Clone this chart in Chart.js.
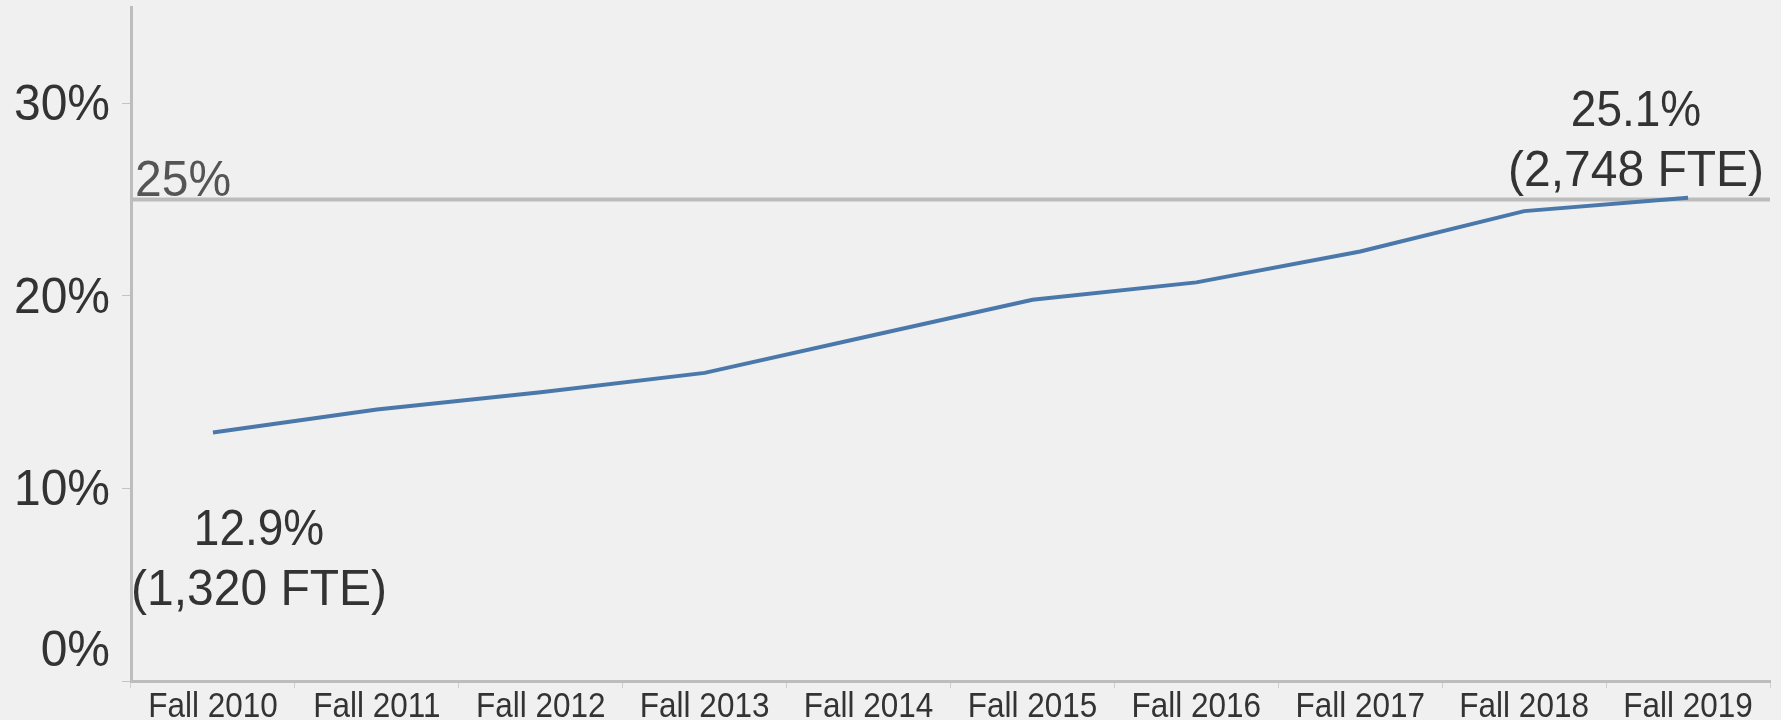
<!DOCTYPE html>
<html>
<head>
<meta charset="utf-8">
<script src="https://cdn.jsdelivr.net/npm/chart.js@4/dist/chart.umd.min.js"></script>
<style>
  html, body { margin: 0; padding: 0; background: #f0f0f0; }
  #wrap { width: 1781px; height: 720px; position: relative; }
</style>
</head>
<body>
<div id="wrap"><canvas id="shareChart"></canvas></div>
<script>
// data
const categories = ['Fall 2010', 'Fall 2011', 'Fall 2012', 'Fall 2013', 'Fall 2014',
                    'Fall 2015', 'Fall 2016', 'Fall 2017', 'Fall 2018', 'Fall 2019'];
const shareValues = [12.9, 14.1, 15.0, 16.0, 17.9, 19.8, 20.7, 22.3, 24.4, 25.1];
const yTicks = [0, 10, 20, 30];
const targetValue = 25;
const labelledPoints = [0, 9];
const fteCounts = [1320, 2748];

const FONT = '"Liberation Sans", Arial, sans-serif';
const BIG_H = 50.6; // visual height of the large text

// draw text stretched vertically to a given visual size, y is the baseline
function stretchedText(ctx, text, x, y, size, height, color, align) {
  ctx.save();
  ctx.translate(x, y);
  ctx.scale(1, height / size);
  ctx.font = size + 'px ' + FONT;
  ctx.fillStyle = color;
  ctx.textAlign = align;
  ctx.textBaseline = 'alphabetic';
  ctx.fillText(text, 0, 0);
  ctx.restore();
}

// 25% target line and its label, under the series
const targetLine = {
  id: 'targetLine',
  beforeDatasetsDraw(chart) {
    const { ctx, chartArea } = chart;
    const y = chart.scales.y.getPixelForValue(targetValue);
    ctx.save();
    ctx.strokeStyle = '#bcbcbc';
    ctx.lineWidth = 4;
    ctx.beginPath();
    ctx.moveTo(chartArea.left, y);
    ctx.lineTo(chartArea.right, y);
    ctx.stroke();
    ctx.restore();
    stretchedText(ctx, targetValue + '%', chartArea.left + 4, y - 4, 48, BIG_H, '#555', 'left');
  }
};

// tick labels (y label at 0 sits above the axis like in the original)
const tickText = {
  id: 'tickText',
  afterDraw(chart) {
    const { ctx, chartArea } = chart;
    const ys = chart.scales.y;
    yTicks.forEach(v => {
      const py = ys.getPixelForValue(v);
      const base = Math.min(py + 17, chartArea.bottom - 15);
      stretchedText(ctx, v + '%', 110, base, 48, BIG_H, '#333', 'right');
    });
    const xs = chart.scales.x;
    categories.forEach((c, i) => {
      stretchedText(ctx, c, xs.getPixelForValue(i), chartArea.bottom + 36, 31.5, 34.6, '#333', 'center');
    });
  }
};

// value + FTE annotations at first and last point
const pointNotes = {
  id: 'pointNotes',
  afterDraw(chart) {
    const { ctx, chartArea } = chart;
    const meta = chart.getDatasetMeta(0);
    ctx.save();
    ctx.beginPath();
    ctx.rect(chartArea.left, 0, chartArea.right - chartArea.left, chart.height);
    ctx.clip();
    ctx.font = '48px ' + FONT;
    labelledPoints.forEach((idx, k) => {
      const pt = meta.data[idx];
      const line1 = shareValues[idx].toFixed(1) + '%';
      const line2 = '(' + fteCounts[k].toLocaleString('en-US') + ' FTE)';
      const w = ctx.measureText(line2).width;
      let cx, b1;
      if (k === 0) {
        cx = Math.max(pt.x, chartArea.left + w / 2);
        b1 = pt.y + 112;
      } else {
        cx = pt.x - 52;
        b1 = pt.y - 72;
      }
      stretchedText(ctx, line1, cx, b1, 46, BIG_H, '#333', 'center');
      stretchedText(ctx, line2, cx, b1 + 60, 48, BIG_H, '#333', 'center');
    });
    ctx.restore();
  }
};

new Chart(document.getElementById('shareChart'), {
  type: 'line',
  data: {
    labels: categories,
    datasets: [{
      data: shareValues,
      borderColor: '#4a78ab',
      borderWidth: 4,
      pointRadius: 0,
      tension: 0,
      fill: false
    }]
  },
  options: {
    responsive: true,
    maintainAspectRatio: false,
    animation: false,
    layout: { padding: { top: 7, right: 11, left: 0, bottom: 0 } },
    plugins: { legend: { display: false }, tooltip: { enabled: false } },
    scales: {
      x: {
        offset: true,
        afterFit: s => { s.height = 39; },
        ticks: { display: false },
        grid: { offset: true, drawOnChartArea: false, tickLength: 7, color: '#cfcfcf', lineWidth: 1 },
        border: { display: true, color: '#bdbdbd', width: 3 }
      },
      y: {
        min: 0,
        max: 35,
        afterFit: s => { s.width = 131; },
        afterBuildTicks: s => { s.ticks = yTicks.map(v => ({ value: v })); },
        ticks: { display: false },
        grid: { drawOnChartArea: false, tickLength: 9, color: '#c4c4c4', lineWidth: 1 },
        border: { display: true, color: '#bdbdbd', width: 3 }
      }
    }
  },
  plugins: [targetLine, tickText, pointNotes]
});
</script>
</body>
</html>
